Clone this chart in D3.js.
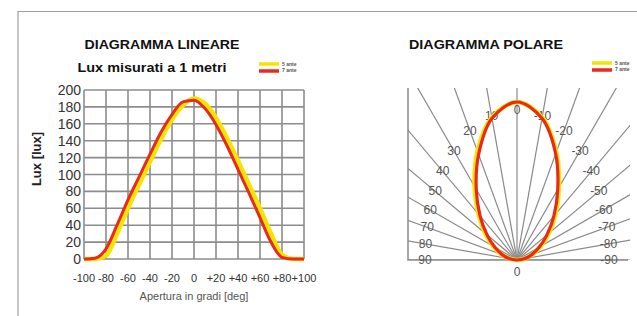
<!DOCTYPE html>
<html><head><meta charset="utf-8">
<script src="https://cdn.jsdelivr.net/npm/d3@7"></script>
<style>body{margin:0;background:#fff}svg{display:block}text{font-family:"Liberation Sans",Arial,sans-serif}</style>
</head><body>
<script>
// ---- data ----
const angles = [-100,-90,-80,-70,-60,-50,-40,-30,-20,-10,0,10,20,30,40,50,60,70,80,90,100];
const luxYellow = [0,0,4,30,60,88,115,142,165,182,190,184,167,143,116,88,60,30,5,0,0];
const luxRed    = [0,1,12,40,70,97,124,150,171,186,188,178,159,134,106,78,49,20,2,0,0];
const xTicks = [-100,-80,-60,-40,-20,0,20,40,60,80,100];
const xTickLabels = ["-100","-80","-60","-40","-20","0","+20","+40","+60","+80","+100"];
const yTicks = [0,20,40,60,80,100,120,140,160,180,200];

const polarAngles = [-90,-80,-70,-60,-50,-40,-30,-20,-10,0,10,20,30,40,50,60,70,80,90];
const polarYellow = [0,10,20,33,50,72,101,138,174,190,174,139,102,72,50,33,20,9,0];
const polarRed    = [0,9,19,31,47,69,98,136,173,190,173,135,98,69,47,31,19,9,0];
const rayAngles = [-90,-80,-70,-60,-50,-40,-30,-20,-10,0,10,20,30,40,50,60,70,80,90];
const rayLabels = ["-90","-80","-70","-60","-50","-40","-30","-20","-10","0","10","20","30","40","50","60","70","80","90"];
const legendLabels = ["5 ante","7 ante"];

const YEL = "#f4e400", RED = "#e8291c", GRID = "#8c8c8c";

const svg = d3.select("body").append("svg").attr("width",637).attr("height",316);

// frame
svg.append("path").attr("d","M18,316 V11.5 H637").attr("fill","none").attr("stroke","#a0a0a0").attr("stroke-width",1.2);

// ---------- linear chart ----------
const x = d3.scaleLinear().domain([-100,100]).range([84,304]);
const y = d3.scaleLinear().domain([0,200]).range([259,90]);
const g = svg.append("g");

g.append("text").attr("x",162).attr("y",49).attr("text-anchor","middle").attr("font-weight","bold")
 .attr("font-size",12).attr("textLength",155).attr("lengthAdjust","spacingAndGlyphs").attr("fill","#111").text("DIAGRAMMA LINEARE");
g.append("text").attr("x",152).attr("y",72).attr("text-anchor","middle").attr("font-weight","bold")
 .attr("font-size",12).attr("textLength",149).attr("lengthAdjust","spacingAndGlyphs").attr("fill","#111").text("Lux misurati a 1 metri");

// grid
g.selectAll(".vg").data(xTicks).join("line").attr("x1",d=>x(d)).attr("x2",d=>x(d)).attr("y1",y(200)).attr("y2",y(0))
 .attr("stroke",GRID).attr("stroke-width",1.6);
g.selectAll(".hg").data(yTicks).join("line").attr("y1",d=>y(d)).attr("y2",d=>y(d)).attr("x1",x(-100)).attr("x2",x(100))
 .attr("stroke",GRID).attr("stroke-width",1.6);

// tick labels
g.selectAll(".yl").data(yTicks).join("text").attr("x",81).attr("y",d=>y(d)+5).attr("text-anchor","end")
 .attr("font-size",14).attr("fill","#333").text(d=>d);
g.selectAll(".xl").data(xTicks).join("text").attr("x",d=>x(d)).attr("y",282).attr("text-anchor","middle")
 .attr("font-size",11).attr("fill","#333").text((d,i)=>xTickLabels[i]);

g.append("text").attr("transform","translate(41,159) rotate(-90)").attr("text-anchor","middle").attr("font-weight","bold")
 .attr("font-size",13).attr("fill","#222").text("Lux [lux]");
g.append("text").attr("x",194).attr("y",300).attr("text-anchor","middle").attr("font-size",11).attr("fill","#555")
 .text("Apertura in gradi [deg]");

const line = d3.line().x((d,i)=>x(angles[i])).y(d=>y(d)).curve(d3.curveMonotoneX);
g.append("path").attr("d",line(luxYellow)).attr("fill","none").attr("stroke",YEL).attr("stroke-width",4.5);
g.append("path").attr("d",line(luxRed)).attr("fill","none").attr("stroke",RED).attr("stroke-width",3);

// legend
function legend(gx, gy){
  const lg = svg.append("g");
  lg.append("line").attr("x1",gx).attr("x2",gx+20).attr("y1",gy).attr("y2",gy).attr("stroke",YEL).attr("stroke-width",3.5);
  lg.append("line").attr("x1",gx).attr("x2",gx+20).attr("y1",gy+7).attr("y2",gy+7).attr("stroke",RED).attr("stroke-width",3.5);
  legendLabels.forEach((t,i)=>lg.append("text").attr("x",gx+23).attr("y",gy+2+i*6).attr("font-size",5).attr("font-weight","bold").attr("fill","#555").text(t));
}
legend(259,64);
legend(592,63);

// ---------- polar chart ----------
const ox = 517, oy = 260;
const pg = svg.append("g");
pg.append("text").attr("x",486).attr("y",49).attr("text-anchor","middle").attr("font-weight","bold")
 .attr("font-size",12).attr("textLength",154).attr("lengthAdjust","spacingAndGlyphs").attr("fill","#111").text("DIAGRAMMA POLARE");

svg.append("clipPath").attr("id","pc").append("rect").attr("x",408).attr("y",88).attr("width",222).attr("height",172);
const rays = pg.append("g").attr("clip-path","url(#pc)");
rays.selectAll("line").data(rayAngles).join("line")
 .attr("x1",ox).attr("y1",oy)
 .attr("x2",d=>ox - 400*Math.sin(d*Math.PI/180))
 .attr("y2",d=>oy - 400*Math.cos(d*Math.PI/180))
 .attr("stroke","#8a8a8a").attr("stroke-width",1.2);
pg.append("path").attr("d","M408,88 V260 H628").attr("fill","none").attr("stroke","#8a8a8a").attr("stroke-width",1.5);

// labels placed on ellipse
const la = 92, lb = 150;
pg.selectAll(".pl").data(rayAngles).join("text")
 .attr("x",d=>{const t=d*Math.PI/180; const r=1/Math.sqrt((Math.sin(t)/la)**2+(Math.cos(t)/lb)**2); return ox - r*Math.sin(t);})
 .attr("y",d=>{const t=d*Math.PI/180; const r=1/Math.sqrt((Math.sin(t)/la)**2+(Math.cos(t)/lb)**2); return oy - r*Math.cos(t)+4;})
 .attr("text-anchor","middle").attr("font-size",12).attr("fill","#555").text((d,i)=>rayLabels[i]);
pg.append("text").attr("x",ox).attr("y",276).attr("text-anchor","middle").attr("font-size",12).attr("fill","#555").text("0");

const r = d3.scaleLinear().domain([0,190]).range([0,158]);
const radial = d3.lineRadial().angle((d,i)=>-polarAngles[i]*Math.PI/180).radius(d=>r(d)).curve(d3.curveCatmullRomClosed);
pg.append("path").attr("transform",`translate(${ox},${oy})`).attr("d",radial(polarYellow)).attr("fill","none").attr("stroke",YEL).attr("stroke-width",4.5);
pg.append("path").attr("transform",`translate(${ox},${oy})`).attr("d",radial(polarRed)).attr("fill","none").attr("stroke",RED).attr("stroke-width",3.2);
</script>
</body></html>
